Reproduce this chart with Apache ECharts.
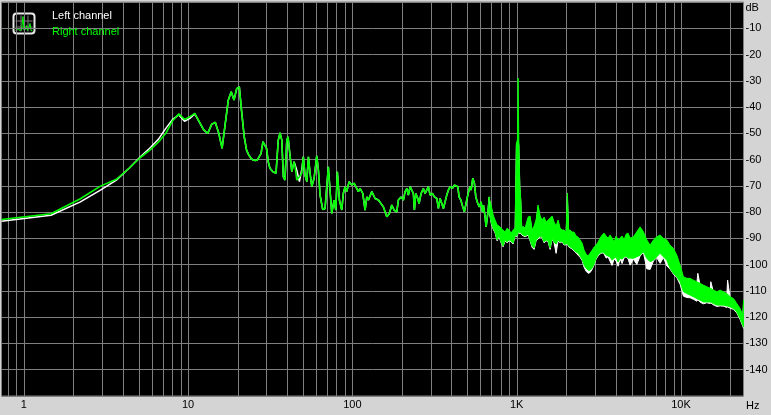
<!DOCTYPE html>
<html><head><meta charset="utf-8">
<script src="https://cdn.jsdelivr.net/npm/echarts@6/dist/echarts.min.js"></script>
<style>html,body{margin:0;padding:0;background:#d4d4d4;}#c{width:771px;height:415px;}</style>
</head><body><div id="c"></div>
<script>
// ---- data (Hz, dB) ----
const lineFreq = [
  0.7324, 1.465, 2.197, 2.930, 3.662, 4.394, 5.127, 5.859, 6.592, 7.324,
  8.057, 8.789, 9.521, 10.25, 10.99, 11.72, 12.45, 13.18, 13.92, 14.65,
  15.38, 16.11, 16.85, 17.58, 18.31, 19.04, 19.78, 20.51, 21.24, 21.97,
  22.70, 23.44, 24.17, 24.90, 25.63, 26.37, 27.10, 27.83, 28.56, 29.30,
  30.03, 30.76, 31.49,
  32.8, 34.3, 35.4, 36.3, 37.2, 38.0, 38.9, 39.9, 40.6, 41.8,
  42.8, 44.2, 44.8, 45.9, 47.6, 49.2, 50.3, 51.5, 52.8, 54.0,
  55.3, 56.6, 58.5, 60.7, 62.1, 63.6, 66.0, 68.2, 69.9, 71.4,
  73.1, 74.9, 77.4, 79.3, 81.0, 83.4, 86.2, 88.1, 90.3, 92.4,
  95.5, 99.2, 102.4, 105.3, 108.8, 111.4, 115.7, 119.5, 122.4, 125.2,
  131.3, 137.5, 144.0, 147.5, 154.4, 162.0, 168.0, 173.7, 179.4, 181.9,
  186.3, 190.5, 197.9, 204.4, 209.3, 214.4, 219.2, 224.5, 229.9, 235.1,
  238.5, 243.2, 250.1, 254.7, 261.9, 270.4, 277.0, 283.7, 290.1, 297.1,
  306.8, 315.6, 326.4, 333.8, 341.9, 350.1, 358.0, 366.6, 375.4, 384.0,
  393.3, 406.1, 417.7, 427.8, 438.1, 446.1, 456.9, 469.8, 480.5, 492.0,
  504.0, 518.3, 527.8, 540.5, 552.8, 563.8, 579.7, 592.9, 607.2, 618.4,
  627.1, 642.2, 651.2, 667.0, 682.1
];
const rightLine = [
  -82.8, -80.6, -75.0, -70.1, -67.5, -63.2, -59.2, -56.4, -53.4, -50.0,
  -45.2, -42.6, -44.7, -43.7, -42.4, -45.6, -48.7, -50.0, -46.6, -45.8,
  -50.0, -55.7, -46.2, -37.3, -34.2, -37.3, -33.0, -32.3, -42.4, -51.3,
  -56.4, -58.3, -59.5, -60.2, -60.3, -60.2, -59.9, -57.6, -53.2, -52.6,
  -55.7, -60.8, -63.3,
  -64.6, -65.2, -52.6, -49.8, -52.6, -66.5, -67.8, -52.6, -51.3, -58.9,
  -64.6, -60.8, -62.7, -67.8, -66.5, -65.2, -58.9, -65.9, -68.4, -58.9,
  -65.2, -70.3, -67.1, -58.6, -64.0, -73.5, -79.0, -78.6, -78.2, -62.7,
  -71.6, -80.5, -75.4, -79.2, -64.6, -75.4, -79.2, -72.9, -70.3, -72.2,
  -68.4, -69.7, -69.0, -68.4, -72.2, -71.0, -72.9, -79.2, -74.2, -75.4,
  -72.2, -74.8, -75.4, -76.1, -78.0, -81.8, -80.5, -77.3, -79.2, -78.6,
  -79.9, -75.4, -74.2, -75.4, -72.2, -71.0, -73.5, -70.3, -69.7, -72.9,
  -79.2, -72.9, -74.8, -76.7, -72.9, -71.0, -72.9, -72.2, -70.3, -73.5,
  -72.9, -74.2, -74.8, -78.6, -74.8, -76.7, -78.6, -76.1, -73.5, -71.6,
  -70.3, -71.0, -69.7, -69.0, -70.3, -74.2, -75.4, -78.0, -79.9, -76.7,
  -73.5, -70.3, -71.6, -67.1, -69.0, -74.2, -76.7, -78.0, -76.1, -79.9,
  -77.3, -81.8, -85.6, -80.5, -74.2
];
const leftLine = [
  -83.5, -81.2, -76.2, -71.6, -67.8, -63.2, -58.9, -55.6, -52.3, -48.1,
  -44.7, -43.0, -45.4, -44.3, -42.6, -45.7, -48.7, -50.0, -46.6, -45.8,
  -50.0, -55.7, -46.2, -37.3, -34.2, -37.3, -33.0, -32.3, -42.4, -51.3,
  -56.4, -58.3, -59.5, -60.2, -60.3, -60.2, -59.9, -57.6, -53.2, -52.6,
  -55.7, -60.8, -63.3,
  -64.6, -65.2, -52.6, -49.8, -52.6, -66.5, -67.8, -52.6, -51.3, -58.9,
  -64.6, -60.8, -60.8, -64.0, -68.4, -63.7, -58.9, -65.9, -68.4, -58.9,
  -65.2, -70.3, -67.1, -58.6, -64.0, -73.5, -79.0, -78.6, -78.2, -62.7,
  -71.6, -80.5, -75.4, -79.2, -64.6, -75.4, -79.2, -72.9, -70.3, -72.2,
  -68.4, -69.7, -69.0, -68.4, -72.2, -71.0, -72.9, -79.2, -74.2, -75.4,
  -72.2, -74.8, -75.4, -76.1, -78.0, -81.8, -80.5, -77.3, -79.2, -78.6,
  -79.9, -75.4, -74.2, -75.4, -72.2, -71.0, -73.5, -70.3, -69.7, -72.9,
  -79.2, -72.9, -74.8, -76.7, -72.9, -71.0, -72.9, -72.2, -70.3, -73.5,
  -72.9, -74.2, -74.8, -78.6, -74.8, -76.7, -78.6, -76.1, -73.5, -71.6,
  -70.3, -71.0, -69.7, -69.0, -70.3, -74.2, -75.4, -78.0, -79.9, -76.7,
  -73.5, -70.3, -71.6, -67.1, -69.0, -74.2, -76.7, -78.0, -76.1, -79.9,
  -77.3, -81.8, -85.6, -80.5, -74.2
];

// dense upper part of the spectrum: per-frequency max / min of each channel
const bandFreq = [
  679.2, 698.6, 718.5, 738.8, 759.9, 781.5, 803.6, 826.5, 850.0, 874.1,
  899.0, 924.7, 951.0, 977.9, 995.8, 1010, 1019.8, 1029.9, 1044.5, 1059.3,
  1074.3, 1093.9, 1124.8, 1173.2, 1206.5, 1240.8, 1276.1, 1312.5, 1349.6, 1388.0,
  1427.6, 1468.2, 1509.8, 1552.7, 1596.9, 1642.3, 1688.6, 1736.8, 1786.3, 1837.1,
  1889.0, 1942.8, 1998.1, 2034.8, 2069.3, 2113.5, 2173.7, 2235.6, 2298.8, 2364.2,
  2431.6, 2500.9, 2571.6, 2644.8, 2720.0, 2797.5, 2876.5, 2958.4, 3042.6, 3129.3,
  3217.6, 3309.2, 3403.4, 3500.3, 3599.2, 3701.6, 3807.0, 3914.6, 4026.0, 4140.6,
  4258.5, 4378.9, 4503.4, 4631.6, 4763.5, 4898.1, 5132, 5383, 5638, 5905,
  6191, 6485, 6792, 7122, 7462, 7815, 8195, 8582, 8989, 9427,
  9874, 10342, 10846, 11360, 11896, 12478, 12655, 13068, 13688, 14355,
  15036, 15185, 15748, 16516, 17298, 18117, 19001, 19212, 19910, 20845,
  21856, 22888, 23774, 24000
];
const rightTop = [
  -74.3, -77.3, -81.1, -83.0, -84.9, -85.3, -86.1, -86.8, -87.6, -86.1,
  -86.8, -88.0, -86.8, -86.1, -53.7, -52.6, -29.0, -52.6, -69.7, -75.4,
  -86.8, -85.3, -86.1, -81.9, -81.5, -86.8, -85.3, -83.0, -77.3, -81.5,
  -83.0, -81.9, -83.8, -83.0, -82.3, -81.5, -83.8, -85.3, -83.0, -86.1,
  -86.8, -86.8, -87.6, -72.7, -86.8, -86.8, -87.6, -87.6, -89.1, -89.5,
  -90.6, -91.8, -94.5, -96.0, -96.7, -95.6, -94.5, -93.3, -92.6, -91.4,
  -89.9, -88.7, -88.0, -89.1, -89.9, -88.7, -89.9, -91.4, -89.1, -90.6,
  -89.9, -89.1, -90.6, -88.4, -88.0, -89.9, -89.4, -87.5, -85.6, -87.5,
  -90.6, -92.6, -90.6, -89.4, -88.7, -90.0, -90.6, -92.6, -93.8, -96.4,
  -100.2, -104.6, -105.2, -105.2, -105.9, -106.5, -106.7, -107.1, -107.8, -108.4,
  -109.0, -109.1, -109.7, -110.3, -109.7, -110.3, -111.0, -111.3, -112.2, -112.9,
  -114.8, -116.7, -119.2, -113.5
];
const rightBottom = [
  -79.2, -83.8, -86.1, -87.6, -90.6, -89.1, -91.4, -92.9, -90.6, -91.4,
  -90.6, -91.0, -91.8, -88.7, -89.1, -88.7, -87.6, -87.6, -88.0, -87.6,
  -88.4, -88.7, -89.1, -88.4, -90.6, -92.9, -93.7, -90.6, -89.9, -89.1,
  -89.5, -91.4, -90.6, -91.0, -93.7, -89.9, -91.4, -92.2, -90.6, -91.4,
  -91.0, -92.2, -92.2, -91.8, -92.9, -93.3, -93.7, -94.5, -95.2, -95.6,
  -96.7, -97.9, -100.2, -101.3, -102.1, -102.1, -101.3, -99.8, -97.5, -96.4,
  -95.6, -95.2, -95.6, -96.4, -96.7, -97.1, -98.3, -97.5, -97.1, -99.0,
  -97.5, -97.9, -97.1, -96.7, -97.5, -97.5, -97.6, -97.0, -96.4, -95.1,
  -97.6, -98.9, -98.3, -97.0, -95.7, -97.0, -98.3, -101.4, -103.3, -104.6,
  -106.5, -110.3, -111.0, -111.6, -112.2, -112.9, -113.1, -113.5, -114.2, -114.2,
  -114.2, -114.3, -114.8, -115.4, -115.4, -115.4, -115.7, -115.8, -116.1, -116.7,
  -118.0, -120.5, -123.0, -123.8
];
const leftTop = [
  -75.0, -78.0, -81.8, -83.7, -85.6, -86.0, -86.8, -87.5, -88.3, -86.8,
  -87.5, -88.7, -87.5, -86.8, -54.5, -53.5, -52.6, -54.5, -70.5, -76.1,
  -87.5, -86.0, -86.8, -82.6, -82.2, -87.5, -86.0, -83.7, -78.0, -82.2,
  -83.7, -82.6, -84.5, -83.7, -83.0, -82.2, -84.5, -86.0, -83.7, -86.8,
  -87.5, -87.5, -88.3, -74.0, -87.5, -87.5, -88.3, -88.3, -89.8, -90.2,
  -91.3, -92.5, -95.2, -96.7, -97.4, -96.3, -95.2, -94.0, -93.3, -92.1,
  -90.6, -89.4, -88.7, -89.8, -90.6, -89.4, -90.6, -92.1, -89.8, -91.3,
  -90.6, -89.8, -91.3, -89.1, -88.7, -90.6, -90.1, -88.2, -86.3, -88.2,
  -91.3, -93.3, -91.3, -90.1, -89.4, -90.7, -91.3, -93.3, -94.5, -97.1,
  -100.9, -105.3, -105.9, -105.9, -106.6, -107.2, -103.3, -107.8, -108.5, -109.1,
  -109.7, -106.5, -110.4, -111.0, -110.4, -111.0, -111.7, -105.9, -112.9, -113.6,
  -115.5, -117.4, -119.9, -115.0
];
const leftBottom = [
  -79.5, -84.1, -86.4, -87.9, -90.9, -89.4, -91.7, -93.2, -90.9, -91.7,
  -90.9, -91.3, -92.1, -89.0, -89.4, -89.0, -87.9, -87.9, -88.3, -87.9,
  -88.7, -89.0, -89.4, -88.7, -90.9, -93.4, -94.2, -90.9, -90.2, -89.4,
  -89.8, -91.7, -90.9, -91.3, -94.2, -90.2, -91.7, -95.7, -90.9, -91.7,
  -91.3, -92.5, -92.5, -92.1, -93.2, -93.6, -94.0, -94.8, -95.5, -96.4,
  -97.2, -98.4, -101.0, -102.5, -103.3, -103.0, -101.8, -100.1, -97.8, -96.7,
  -95.9, -95.5, -95.9, -97.5, -97.0, -98.8, -100.3, -97.8, -98.6, -100.6,
  -97.8, -99.6, -97.4, -97.0, -97.8, -100.2, -97.9, -99.9, -96.7, -95.4,
  -101.6, -101.8, -98.6, -97.3, -99.5, -97.3, -100.5, -101.7, -103.6, -104.9,
  -107.5, -112.0, -112.5, -112.6, -113.2, -113.9, -113.4, -114.3, -114.9, -114.5,
  -114.8, -114.6, -115.3, -115.9, -115.7, -115.8, -116.3, -116.1, -116.6, -117.0,
  -118.4, -120.9, -123.4, -124.2
];

// axis ticks / labels
const xTickLabels = { 0: '1', 1: '10', 2: '100', 3: '1K', 4: '10K' };
const xUnit = 'Hz';
const yMin = -150, yMax = 0, yStep = 10;
const gridFreqs = [0.8, 0.9];
[1, 10, 100, 1000].forEach(d => { for (let m = 1; m <= 9; m++) gridFreqs.push(m * d); });
gridFreqs.push(10000, 20000);

const FONT = "'Liberation Sans', Arial, sans-serif";
const GREEN = '#00ff00', WHITE = '#ffffff', GRID = '#808080';

function bandRender(top, bottom, color) {
  return function (params, api) {
    if (params.dataIndex !== 0) return null;
    const pts = [];
    for (let i = 0; i < bandFreq.length; i++) pts.push(api.coord([bandFreq[i], top[i]]));
    for (let i = bandFreq.length - 1; i >= 0; i--) pts.push(api.coord([bandFreq[i], bottom[i]]));
    return { type: 'polygon', shape: { points: pts }, style: { fill: color, stroke: color, lineWidth: 1 } };
  };
}

const chart = echarts.init(document.getElementById('c'), null, { renderer: 'canvas' });
chart.setOption({
  animation: false,
  backgroundColor: '#d4d4d4',
  textStyle: { fontFamily: FONT, fontSize: 11 },
  grid: {
    left: 1.5, right: 27.5, top: 2, bottom: 19, show: true,
    backgroundColor: '#000', borderColor: GRID, borderWidth: 1,
    containLabel: false, outerBoundsMode: 'none'
  },
  legend: {
    orient: 'vertical', left: 47, top: 9, padding: 0,
    itemWidth: 0, itemHeight: 14, itemGap: 3, icon: 'none',
    selectedMode: true,
    textStyle: { fontFamily: FONT, fontSize: 11 },
    data: [
      { name: 'Left channel', icon: 'none', textStyle: { color: WHITE } },
      { name: 'Right channel', icon: 'none', textStyle: { color: GREEN } }
    ]
  },
  graphic: [{
    type: 'group', x: 13.5, y: 13.5, silent: true,
    children: [
      { type: 'rect', shape: { x: 0, y: 0, width: 21, height: 20, r: 3 }, style: { fill: '#000', stroke: '#e8e8e8', lineWidth: 2 } },
      { type: 'line', shape: { x1: 7.5, y1: 2, x2: 7.5, y2: 18 }, style: { stroke: GRID, lineWidth: 1 } },
      { type: 'line', shape: { x1: 14.5, y1: 2, x2: 14.5, y2: 18 }, style: { stroke: GRID, lineWidth: 1 } },
      { type: 'line', shape: { x1: 2, y1: 7.5, x2: 19, y2: 7.5 }, style: { stroke: GRID, lineWidth: 1 } },
      { type: 'line', shape: { x1: 2, y1: 13.5, x2: 19, y2: 13.5 }, style: { stroke: GRID, lineWidth: 1 } },
      { type: 'polyline', shape: { points: [[2, 17], [4, 16.5], [5, 15], [6, 17], [8, 16.5], [9.5, 3], [10.5, 17], [12, 16], [13, 12], [14, 17], [15.5, 14], [16.5, 10], [17.5, 17], [19, 17.5]] },
        style: { stroke: GREEN, fill: null, lineWidth: 1 } }
    ]
  }, {
    type: 'text', x: 746, y: 400, silent: true,
    style: { text: xUnit, fill: '#000', fontFamily: FONT, fontSize: 11, align: 'left', verticalAlign: 'top' }
  }],
  xAxis: {
    type: 'log', logBase: 10, min: 0.7324, max: 24000,
    axisLine: { show: false }, axisTick: { show: false }, splitLine: { show: false },
    axisLabel: {
      color: '#000', fontFamily: FONT, fontSize: 11, margin: 3,
      showMinLabel: false, showMaxLabel: false,
      formatter: function (v) {
        const l = Math.log10(v), r = Math.round(l);
        return Math.abs(l - r) < 1e-6 && xTickLabels[r] !== undefined ? xTickLabels[r] : '';
      }
    }
  },
  yAxis: {
    type: 'value', position: 'right', min: yMin, max: yMax, interval: yStep,
    axisLine: { show: false }, axisTick: { show: false },
    splitLine: { show: true, lineStyle: { color: GRID, width: 1 } },
    axisLabel: {
      color: '#000', fontFamily: FONT, fontSize: 11, margin: 2,
      formatter: function (v) { return v === yMax ? '{d|dB}' : (v === yMin ? '' : String(v)); },
      rich: { d: { color: '#000', fontFamily: FONT, fontSize: 11, padding: [11, 0, 0, 0] } }
    }
  },
  series: [
    {
      type: 'custom', name: 'grid', silent: true, z: 1,
      data: gridFreqs.map(f => [f, yMax]),
      renderItem: function (params, api) {
        const p0 = api.coord([api.value(0), yMax]);
        const p1 = api.coord([api.value(0), yMin]);
        const x = Math.round(p0[0]) + 0.5;
        return { type: 'line', shape: { x1: x, y1: p0[1], x2: x, y2: p1[1] }, style: { stroke: GRID, lineWidth: 1 } };
      }
    },
    {
      type: 'line', name: 'Left channel', showSymbol: false, symbol: 'none', clip: true,
      color: WHITE, lineStyle: { color: WHITE, width: 1.5 },
      data: lineFreq.map((f, i) => [f, leftLine[i]])
    },
    {
      type: 'custom', name: 'Left channel', clip: true, color: WHITE,
      data: [[bandFreq[0], leftTop[0]]],
      renderItem: bandRender(leftTop, leftBottom, WHITE)
    },
    {
      type: 'line', name: 'Right channel', showSymbol: false, symbol: 'none', clip: true,
      color: GREEN, lineStyle: { color: GREEN, width: 1.6 },
      data: lineFreq.map((f, i) => [f, rightLine[i]])
    },
    {
      type: 'custom', name: 'Right channel', clip: true, color: GREEN,
      data: [[bandFreq[0], rightTop[0]]],
      renderItem: bandRender(rightTop, rightBottom, GREEN)
    }
  ]
});
</script>
</body></html>
